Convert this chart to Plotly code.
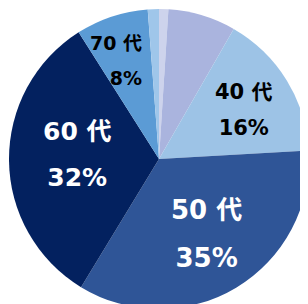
import plotly.graph_objects as go

labels = ["20代", "30代", "40代", "50代", "60代", "70代", "80代"]
values = [1.0, 7.3, 15.8, 34.6, 32.3, 7.8, 1.2]
colors = ["#cdd3ec", "#aab4de", "#9dc3e6", "#2f5597", "#03215f", "#5b9bd5", "#9fc6ea"]
labelled = ["40代", "50代", "60代", "70代"]

# label styling / placement (layout only)
label_style = {
    "40代": dict(color="#000000", glyph=21, line=28, x=0.761, y=0.671, align="center"),
    "50代": dict(color="#ffffff", glyph=26, line=37, x=0.640, y=0.271, align="center"),
    "60代": dict(color="#ffffff", glyph=25, line=35, x=0.223, y=0.526, align="center"),
    "70代": dict(color="#000000", glyph=19, line=27, x=0.347, y=0.832, align="right"),
}
FONT = "DejaVu Sans, Noto Sans CJK JP"

W, H = 310, 310
fig = go.Figure(go.Pie(
    labels=labels,
    values=values,
    textinfo="none",
    sort=False,
    direction="clockwise",
    rotation=0,
    marker=dict(colors=colors, line=dict(width=0)),
    domain=dict(x=[1 / W, 301 / W], y=[9 / H, 309 / H]),
    showlegend=False,
    hoverinfo="label+percent",
))

total = sum(values)
for lab in labelled:
    v = values[labels.index(lab)]
    st = label_style[lab]
    pct = round(v / total * 100)
    fig.add_annotation(
        text=f"<span style='font-size:{st['glyph']}px'>{lab[:-1]} {lab[-1]}<br>{pct}%</span>",
        x=st["x"], y=st["y"], xref="paper", yref="paper",
        xanchor="center", yanchor="middle", align=st["align"],
        showarrow=False,
        font=dict(family=FONT, size=st["line"], color=st["color"], weight="bold"),
    )

fig.update_layout(
    width=W, height=H,
    margin=dict(l=0, r=0, t=0, b=0),
    paper_bgcolor="white",
)
fig.write_html("out.html")
